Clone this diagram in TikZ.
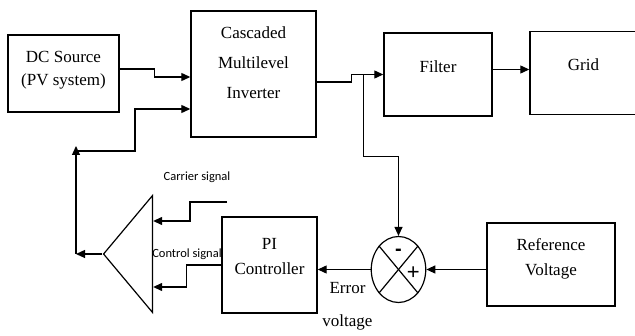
\documentclass[tikz,border=0pt]{standalone}
\usepackage{fontspec}
\setmainfont{Liberation Serif}
\newfontfamily\calibri{Carlito}
\newfontfamily\arialsans{Liberation Sans}
\usetikzlibrary{arrows.meta,positioning,calc,shapes.geometric}

\begin{document}
\begin{tikzpicture}[
  x=1pt, y=-1pt,
  block/.style={draw, line width=1.4pt, align=center, text height=0pt, text depth=0pt, font=\fontsize{17}{25}\selectfont},
  sum/.style={draw, ellipse, line width=1.2pt, minimum width=54.5pt, minimum height=66pt, inner sep=0pt},
  tag/.style={font=\calibri\fontsize{12.5}{14}\selectfont, inner sep=0pt},
  sig/.style={-{Triangle[length=9pt,width=8pt]}, line width=1.2pt},
  wire/.style={line width=1.2pt}
]
\useasboundingbox (0,0) rectangle (635,336);
\node[block, minimum width=111pt, minimum height=77pt, text height=25pt, font=\fontsize{17}{23}\selectfont] (dc) at (63.5,73.5) {DC Source\\(PV system)};
\node[block, minimum width=125pt, minimum height=126pt, text height=50pt, font=\fontsize{17}{30}\selectfont] (cmi) at (253.5,74) {Cascaded\\Multilevel\\Inverter};
\node[block, minimum width=108pt, minimum height=83pt, text depth=3.6pt] (filter) at (438,74.5) {Filter};
\node[block, minimum width=107pt, minimum height=82.5pt, text depth=4.6pt] (grid) at (583.5,73) {Grid};
\node[sum] (sum) at (398.5,269.5) {};
\node[block, minimum width=128pt, minimum height=83pt, text height=23pt] (ref) at (551,264.5) {Reference\\Voltage};
\node[block, minimum width=95pt, minimum height=96pt, text height=20pt] (pi) at (269.5,265) {PI\\Controller};
\node[draw, isosceles triangle, isosceles triangle stretches, shape border rotate=180, minimum width=117pt, minimum height=49pt, inner sep=0pt, line width=1.2pt, anchor=apex] (pwm) at (102,254) {};
\node[tag] (carrierlbl) at (197,177.5) {Carrier signal};
\node[tag] (controllbl) at (187,254) {Control signal};
\node[align=center, font=\fontsize{17}{33}\selectfont, inner sep=0pt] (errlbl) at (347.5,306) {Error\\voltage};
\node[font=\arialsans\bfseries\fontsize{20}{20}\selectfont, inner sep=0pt] (minus) at (398.5,252) {-};
\node[font=\arialsans\fontsize{22}{22}\selectfont, inner sep=0pt] (plus) at (413.3,273.5) {+};
% summing junction cross
\draw[wire] (sum.north west) -- (sum.south east);
\draw[wire] (sum.north east) -- (sum.south west);
% power path
\draw[sig] ([yshift=4.5pt]dc.east) -- ++(35,0) |- ([yshift=-3pt]cmi.west);
\draw[sig] ([yshift=-8pt]cmi.east) -- ++(35,0) |- (filter.west);
\draw[sig] ([yshift=5pt]filter.east) -- ([yshift=5pt]filter.east -| grid.west);
% control loop
\coordinate (tap) at ($(filter.west)+(-20,0)$);
\draw[sig] (tap) -- ++(0,82) -| (sum.north);
\draw[sig] (sum.east -| ref.west) -- (sum.east);
\draw[sig] (sum.west) -- (sum.west -| pi.east);
\draw[sig] (pi.west) -- ++(-35,0) |- ([yshift=-33pt]pwm.lower side);
\coordinate (carrier) at (227,202);
\draw[sig] (carrier) -- ++(-37,0) |- ([yshift=33pt]pwm.lower side);
\draw[sig] (pwm.apex) -- ++(-26,0) coordinate (fb);
\draw[sig] (fb) -- ++(0,-108);
\draw[sig] ([yshift=103pt]fb) -- ++(59,0) |- ([yshift=-35pt]cmi.west);
\end{tikzpicture}
\end{document}
